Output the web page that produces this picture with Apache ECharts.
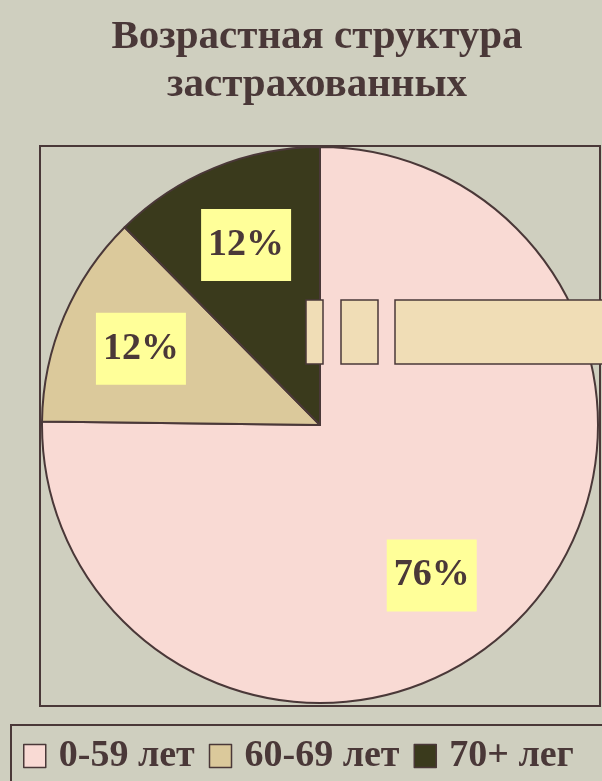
<!DOCTYPE html>
<html>
<head>
<meta charset="utf-8">
<script src="https://cdn.jsdelivr.net/npm/echarts@6/dist/echarts.min.js"></script>
<style>
  html, body { margin: 0; padding: 0; }
  #chart { width: 602px; height: 781px; }
</style>
</head>
<body>
<div id="chart"></div>
<script>
// данные
var categories = ['0-59 лет', '60-69 лет', '70+ лег'];
var values = [75.2, 12.4, 12.4];
var percentLabels = ['76%', '12%', '12%'];
var sliceColors = ['#f9dad4', '#dbc99b', '#3a3a1c'];

var ink = '#4a3838';
var serif = '"Liberation Serif", "DejaVu Serif", serif';
var cx = 320, cy = 425, R = 278;

var total = values.reduce(function (a, b) { return a + b; }, 0);
// середина сектора (по часовой от 12 часов)
function labelPoint(i) {
  var before = 0;
  for (var k = 0; k < i; k++) before += values[k];
  var a = (before + values[i] / 2) / total * Math.PI * 2;
  return { x: cx + 0.7 * R * Math.sin(a), y: cy - 0.7 * R * Math.cos(a) };
}

var myChart = echarts.init(document.getElementById('chart'));
var option = {
  backgroundColor: '#cfcfbf',
  title: {
    text: 'Возрастная структура\nзастрахованных',
    left: 312,
    textAlign: 'center',
    top: 8,
    textStyle: {
      fontFamily: serif,
      fontWeight: 'bold',
      fontSize: 41,
      lineHeight: 48,
      color: ink
    }
  },
  legend: {
    left: 11,
    top: 725,
    width: 620,
    orient: 'horizontal',
    icon: 'rect',
    itemWidth: 22,
    itemHeight: 23,
    itemGap: 14,
    padding: [12, 40, 30, 12],
    borderColor: ink,
    borderWidth: 2,
    selectedMode: false,
    data: categories,
    itemStyle: { borderColor: ink, borderWidth: 1.5 },
    textStyle: {
      fontFamily: serif,
      fontWeight: 'bold',
      fontSize: 38,
      color: ink,
      padding: [0, 0, 0, 8]
    }
  },
  graphic: [
    // рамка области построения
    { type: 'rect', z: 0, shape: { x: 40, y: 146, width: 560, height: 560 },
      style: { fill: 'none', stroke: ink, lineWidth: 2 } },
    // полоски справа, как в исходнике
    { type: 'rect', z: 10, shape: { x: 306, y: 300, width: 17, height: 64 },
      style: { fill: '#f0ddb6', stroke: ink, lineWidth: 1.5 } },
    { type: 'rect', z: 10, shape: { x: 341, y: 300, width: 37, height: 64 },
      style: { fill: '#f0ddb6', stroke: ink, lineWidth: 1.5 } },
    { type: 'rect', z: 10, shape: { x: 395, y: 300, width: 230, height: 64 },
      style: { fill: '#f0ddb6', stroke: ink, lineWidth: 1.5 } }
  ],
  series: [{
    type: 'pie',
    center: [cx, cy],
    radius: [0, R],
    startAngle: 90,
    clockwise: true,
    avoidLabelOverlap: false,
    silent: true,
    itemStyle: { borderColor: ink, borderWidth: 2 },
    label: {
      show: true,
      position: 'inside',
      formatter: function (p) { return percentLabels[p.dataIndex]; },
      fontFamily: serif,
      fontWeight: 'bold',
      fontSize: 38,
      lineHeight: 42,
      color: ink,
      backgroundColor: '#ffff99',
      padding: [15, 7, 15, 7]
    },
    labelLine: { show: false },
    labelLayout: function (params) {
      var pt = labelPoint(params.dataIndex);
      // большая метка в оригинале чуть смещена
      if (params.dataIndex === 0) { pt.x -= 25; pt.y += 12; }
      return { x: pt.x, y: pt.y, align: 'center', verticalAlign: 'middle' };
    },
    data: categories.map(function (c, i) {
      return { name: c, value: values[i], itemStyle: { color: sliceColors[i] } };
    })
  }]
};
myChart.setOption(option);
</script>
</body>
</html>
